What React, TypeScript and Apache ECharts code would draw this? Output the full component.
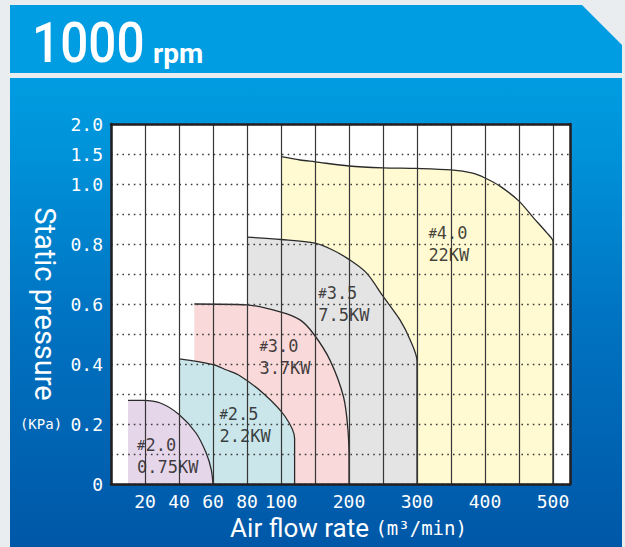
import React, { useEffect, useRef } from 'react';
import * as echarts from 'echarts';

// ---- tick values / labels ----
const xTickValues = [20, 40, 60, 80, 100, 200, 300, 400, 500];
const xTickLabels = ['20', '40', '60', '80', '100', '200', '300', '400', '500'];
const yTickValues = [0, 0.2, 0.4, 0.6, 0.8, 1.0, 1.5, 2.0];
const yTickLabels = ['0', '0.2', '0.4', '0.6', '0.8', '1.0', '1.5', '2.0'];

// ---- fan operating regions (flow m3/min, static pressure KPa) ----
const fanNames = ['#4.0', '#3.5', '#3.0', '#2.5', '#2.0'];
const fanPowers = ['22KW', '7.5KW', '3.7KW', '2.2KW', '0.75KW'];
const fanColors = ['#fffad1', '#e4e4e4', '#f9d9d9', '#cae6ea', '#e6d6ea'];

const flow40 = [100, 128, 150, 200, 250, 300, 350, 382, 400, 422, 450, 471, 491, 500, 500];
const press40 = [1.455, 1.4, 1.37, 1.3, 1.27, 1.26, 1.235, 1.18, 1.1, 0.993, 0.943, 0.888, 0.837, 0.808, 0];

const flow35 = [80, 100, 150, 176, 201, 226, 250, 275, 290, 300, 300];
const press35 = [0.823, 0.815, 0.803, 0.78, 0.747, 0.703, 0.626, 0.547, 0.48, 0.41, 0];

const flow30 = [49, 80, 100, 128, 148, 172, 192, 198.5, 200, 200];
const press30 = [0.6, 0.597, 0.573, 0.547, 0.5, 0.413, 0.29, 0.18, 0.08, 0];

const flow25 = [40, 60, 68, 76, 90, 106, 120, 120];
const press25 = [0.417, 0.398, 0.38, 0.36, 0.3, 0.225, 0.152, 0];

const flow20 = [10, 19, 29, 40, 50, 56, 59, 60];
const press20 = [0.279, 0.279, 0.27, 0.232, 0.17, 0.103, 0.047, 0];

const fanFlows = [flow40, flow35, flow30, flow25, flow20];
const fanPresses = [press40, press35, press30, press25, press20];

// label anchor points (left-middle of each text block)
const labelFlow = [316, 154, 87, 63.5, 15];
const labelPress = [0.8, 0.6, 0.423, 0.197, 0.093];

// ---- piecewise axis transforms (chart uses equally spaced grid cells) ----
const toX = (v: number) => (v <= 100 ? v / 20 : 5 + (v - 100) / 50);
const toY = (p: number) => (p <= 1 ? p * 10 : 10 + (p - 1) / 0.5);

const MONO = '"DejaVu Sans Mono", monospace';
const SANS = 'Roboto, "Noto Sans", sans-serif';

function findLabel(v: number, vals: number[], labels: string[], tf: (n: number) => number) {
  for (let i = 0; i < vals.length; i++) {
    if (Math.abs(tf(vals[i]) - v) < 1e-6) return labels[i];
  }
  return '';
}

function buildOption() {
  const areaSeries = fanFlows.map((flows, k) => ({
    type: 'line',
    name: fanNames[k],
    data: flows.map((f, i) => [toX(f), toY(fanPresses[k][i])]),
    smooth: 0.3,
    symbol: 'none',
    lineStyle: { color: '#2a2a2a', width: 1.3 },
    areaStyle: { color: fanColors[k], opacity: 1, origin: 'start' },
    z: 2,
    silent: true,
  }));

  const labelSeries = {
    type: 'scatter',
    symbolSize: 1,
    itemStyle: { color: 'rgba(0,0,0,0)' },
    z: 3,
    silent: true,
    data: labelFlow.map((f, i) => ({
      value: [toX(f), toY(labelPress[i])],
      label: {
        show: true,
        position: 'right',
        distance: 0,
        formatter: `{h|#}{t|${fanNames[i].slice(1)}}\n{t|${fanPowers[i]}}`,
        rich: {
          h: { fontFamily: MONO, fontSize: 14, color: '#111111', lineHeight: 22 },
          t: { fontFamily: MONO, fontSize: 17, color: '#111111', lineHeight: 22 },
        },
      },
    })),
  };

  const borderLine = { show: true, onZero: false, lineStyle: { color: '#231f20', width: 2.5 } };

  return {
    animation: false,
    backgroundColor: '#e9edf0',
    graphic: [
      {
        type: 'polygon',
        z: -10,
        shape: { points: [[10, 5], [582, 5], [622, 45], [622, 73], [10, 73]] },
        style: { fill: '#009de2' },
      },
      {
        type: 'rect',
        z: -10,
        shape: { x: 10, y: 78, width: 612, height: 469 },
        style: {
          fill: {
            type: 'linear', x: 0, y: 0, x2: 0, y2: 1,
            colorStops: [
              { offset: 0, color: '#009ce1' },
              { offset: 0.15, color: '#0093da' },
              { offset: 0.5, color: '#0074c2' },
              { offset: 1, color: '#0057a7' },
            ],
          },
        },
      },
      {
        type: 'text',
        x: 32,
        y: 43,
        scaleX: 0.9,
        style: { text: '1000', fontFamily: SANS, fontSize: 55, fontWeight: 500, fill: '#ffffff', textVerticalAlign: 'middle' },
      },
      {
        type: 'text',
        x: 153,
        y: 53,
        style: { text: 'rpm', fontFamily: SANS, fontSize: 28, fontWeight: 'bold', fill: '#ffffff', textVerticalAlign: 'middle' },
      },
    ],
    grid: {
      left: 111, top: 124, width: 459, height: 360,
      show: true, backgroundColor: '#ffffff', borderWidth: 0,
      containLabel: false, outerBoundsMode: 'none',
    },
    xAxis: [
      {
        type: 'value',
        min: 0,
        max: 13.5,
        interval: 1,
        z: 10,
        axisLine: borderLine,
        axisTick: { show: false },
        axisLabel: {
          color: '#ffffff',
          fontFamily: MONO,
          fontSize: 18,
          margin: 8,
          showMinLabel: true,
          showMaxLabel: true,
          formatter: (v: number) => findLabel(v, xTickValues, xTickLabels, toX),
        },
        splitLine: { show: true, lineStyle: { color: '#363636', width: 1.2 } },
        name: '{a|Air flow rate }{b|(m³/min)}',
        nameLocation: 'middle',
        nameGap: 31,
        nameMoveOverlap: false,
        nameTextStyle: {
          padding: [0, 0, 0, 16],
          rich: {
            a: { fontFamily: SANS, fontSize: 26, color: '#ffffff' },
            b: { fontFamily: MONO, fontSize: 19, color: '#ffffff' },
          },
        },
      },
      {
        type: 'value',
        position: 'top',
        min: 0,
        max: 13.5,
        z: 10,
        axisLine: borderLine,
        axisTick: { show: false },
        axisLabel: { show: false },
        splitLine: { show: false },
      },
    ],
    yAxis: [
      {
        type: 'value',
        min: 0,
        max: 12,
        interval: 1,
        z: 10,
        axisLine: borderLine,
        axisTick: { show: false },
        axisLabel: {
          color: '#ffffff',
          fontFamily: MONO,
          fontSize: 18,
          margin: 8,
          formatter: (v: number) => {
            const s = findLabel(v, yTickValues, yTickLabels, toY);
            if (s === '0.2') return '{u|(KPa) }{n|0.2}';
            return s;
          },
          rich: {
            u: { fontFamily: MONO, fontSize: 14, color: '#ffffff' },
            n: { fontFamily: MONO, fontSize: 18, color: '#ffffff' },
          },
        },
        splitLine: { show: true, lineStyle: { color: '#3c3c3c', width: 1.3, type: [1.6, 4.1] } },
        name: 'Static pressure',
        nameLocation: 'middle',
        nameRotate: -90,
        nameGap: 52,
        nameMoveOverlap: false,
        nameTextStyle: { fontFamily: SANS, fontSize: 29, color: '#ffffff' },
      },
      {
        type: 'value',
        position: 'right',
        min: 0,
        max: 12,
        z: 10,
        axisLine: borderLine,
        axisTick: { show: false },
        axisLabel: { show: false },
        splitLine: { show: false },
      },
    ],
    series: [...areaSeries, labelSeries],
  };
}

export default function App() {
  const ref = useRef<HTMLDivElement>(null);
  useEffect(() => {
    if (!ref.current) return;
    const chart = echarts.init(ref.current, null, { renderer: 'svg' });
    chart.setOption(buildOption() as any);
    return () => chart.dispose();
  }, []);
  return <div ref={ref} style={{ position: 'fixed', left: 0, top: 0, width: 625, height: 547 }} />;
}
